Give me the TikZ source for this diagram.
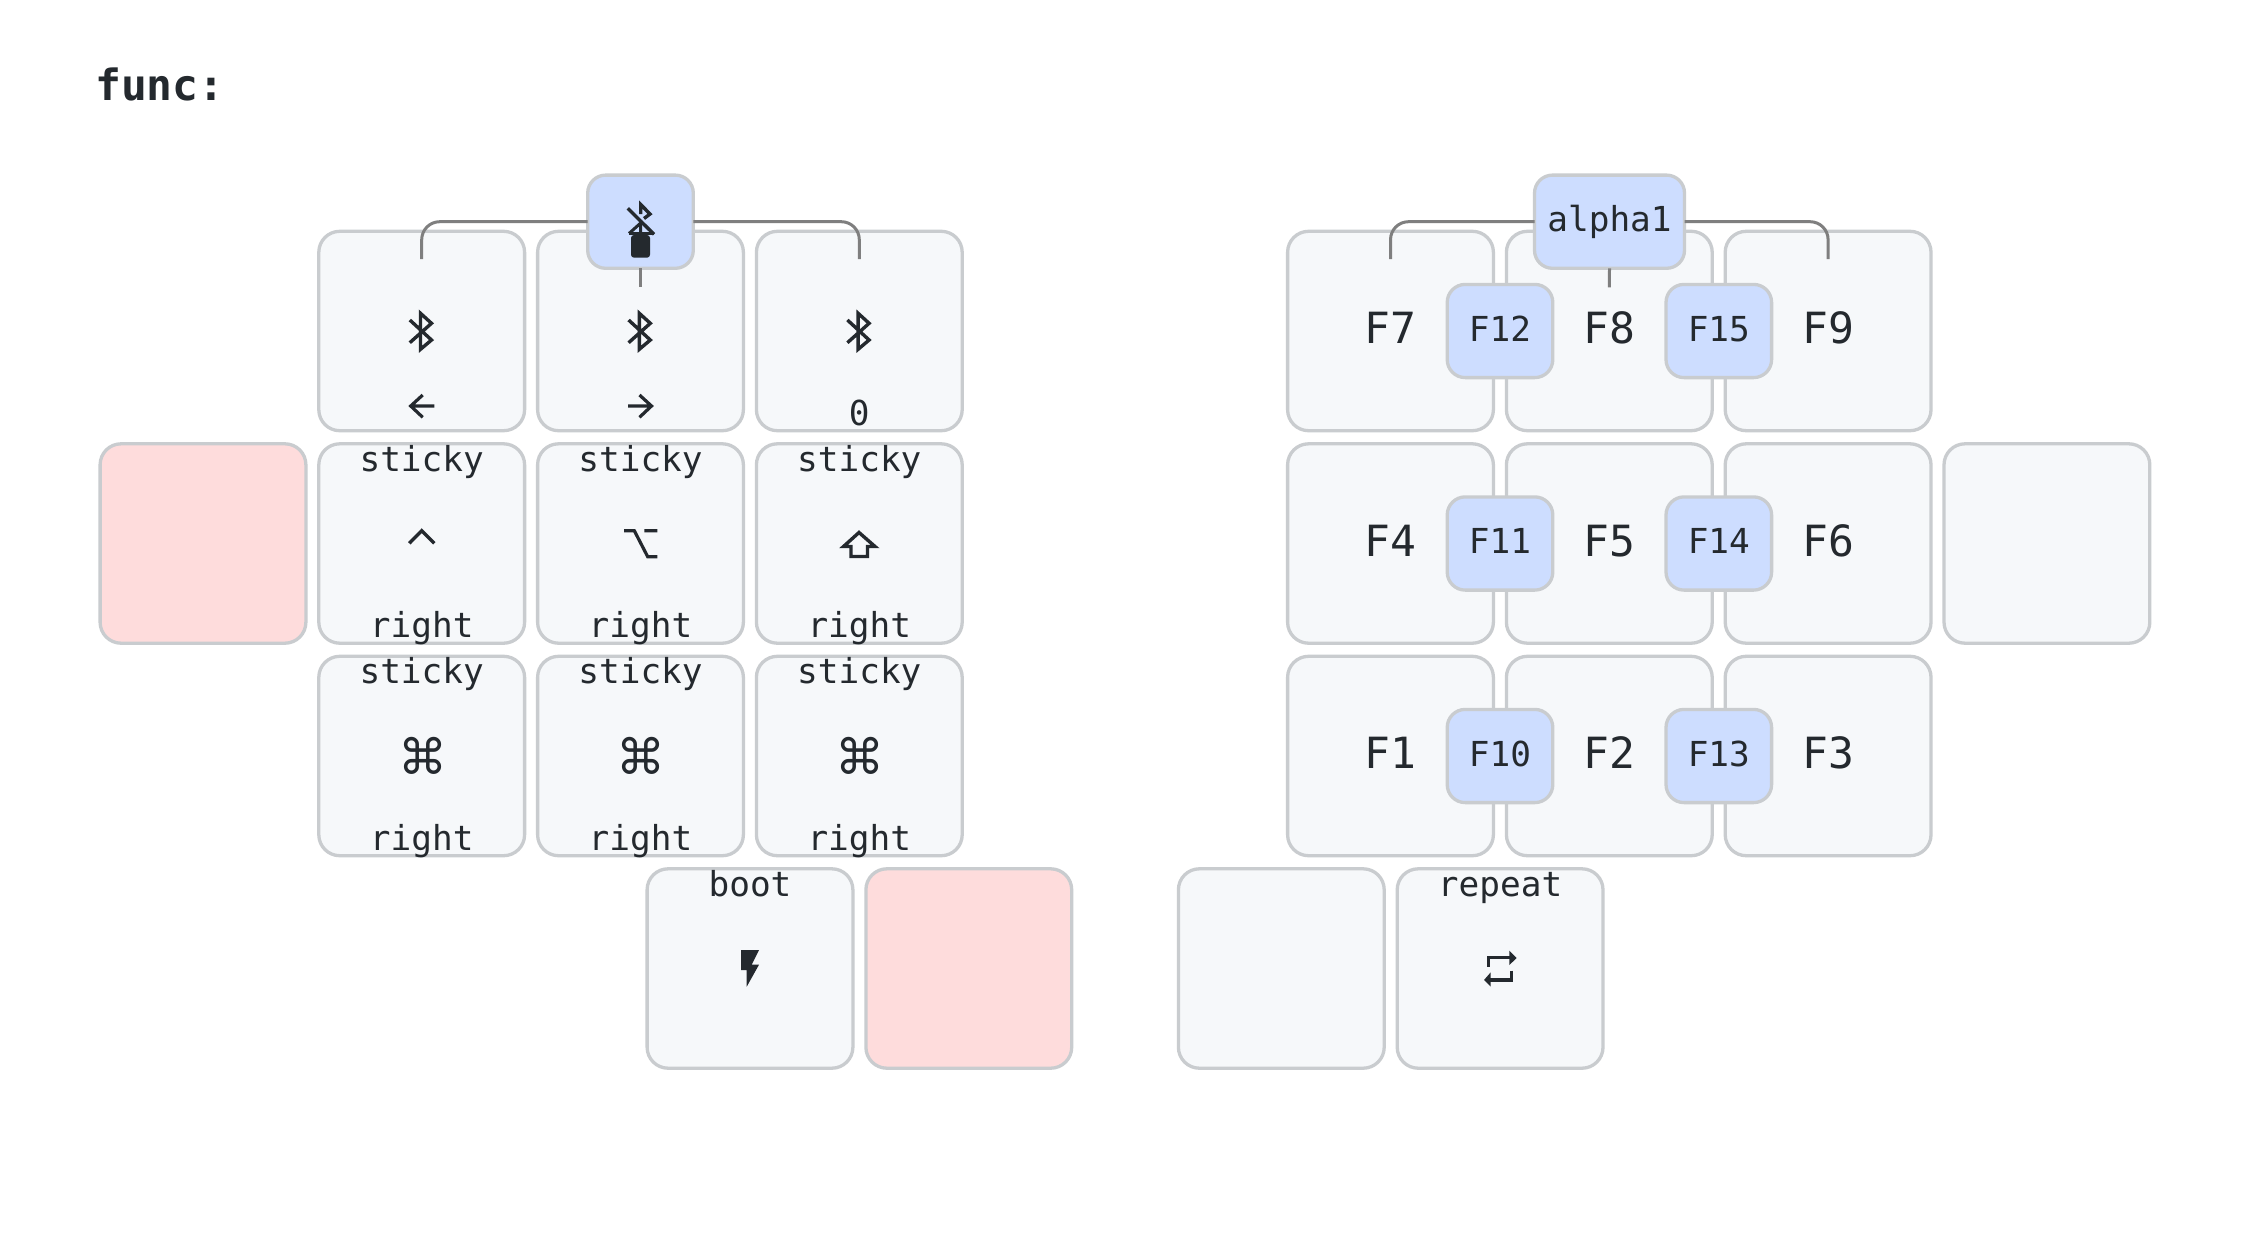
\documentclass[tikz,border=0pt]{standalone}
\usepackage{fontspec}
\setmonofont{DejaVu Sans Mono}
\newfontfamily\symfont{DejaVu Sans}
\definecolor{ink}{HTML}{24292E}
\definecolor{keyfill}{HTML}{F6F8FA}
\definecolor{keyline}{HTML}{C9CCCF}
\definecolor{heldfill}{HTML}{FEDCDC}
\definecolor{combofill}{HTML}{CDDDFF}
\definecolor{edgeline}{HTML}{7F7F7F}
\tikzset{
  keybox/.style={draw=keyline,fill=keyfill,line width=3.3pt,rounded corners=21pt,minimum width=205.8pt,minimum height=199.4pt,inner sep=0pt,outer sep=0pt},
  heldbox/.style={keybox,fill=heldfill},
  combobox/.style={draw=keyline,fill=combofill,line width=3.3pt,rounded corners=18pt,minimum height=93.2pt,minimum width=105.6pt,inner sep=0pt,outer sep=0pt},
  lbl/.style={anchor=base,inner sep=0pt,text=ink,font=\ttfamily\fontsize{34.4}{40}\selectfont},
  tap/.style={lbl,font=\ttfamily\fontsize{43}{50}\selectfont},
  cmd/.style={anchor=center,inner sep=0pt,text=ink,font=\symfont\fontsize{49}{52}\selectfont},
  connector/.style={draw=edgeline,line width=3pt,rounded corners=18pt},
  icon/.style={draw=ink,line width=3.4pt,miter limit=10},
  iconfill/.style={fill=ink,draw=none},
}
\newcommand{\bticon}[2]{\draw[icon,shift={(#1,#2)}] (-11.9,-11) -- (9.8,9) -- (-1.2,18.3) -- (-1.2,-17.7) -- (9.8,-7.7) -- (-11.9,11.7);}
\begin{document}
\begin{tikzpicture}[x=1pt,y=-1pt]
\useasboundingbox (0,0) rectangle (2250,1250);
\fill[white] (0,0) rectangle (2250,1250);
\node[anchor=base west,inner sep=0pt,text=ink,font=\ttfamily\bfseries\fontsize{43}{50}\selectfont] (title) at (95,100) {func:};
% left hand
\node[keybox] (a1) at (421.7,331) {};
\node[keybox] (a2) at (640.5,331) {};
\node[keybox] (a3) at (859.3,331) {};
\node[heldbox] (b0) at (203,543.5) {};
\node[keybox] (b1) at (421.7,543.5) {};
\node[keybox] (b2) at (640.5,543.5) {};
\node[keybox] (b3) at (859.3,543.5) {};
\node[keybox] (c1) at (421.7,756) {};
\node[keybox] (c2) at (640.5,756) {};
\node[keybox] (c3) at (859.3,756) {};
\node[keybox] (d1) at (750,968.5) {};
\node[heldbox] (d2) at (968.8,968.5) {};
% right hand
\node[keybox] (e1) at (1390.5,331) {};
\node[keybox] (e2) at (1609.3,331) {};
\node[keybox] (e3) at (1828.1,331) {};
\node[keybox] (f1) at (1390.5,543.5) {};
\node[keybox] (f2) at (1609.3,543.5) {};
\node[keybox] (f3) at (1828.1,543.5) {};
\node[keybox] (f4) at (2046.9,543.5) {};
\node[keybox] (g1) at (1390.5,756) {};
\node[keybox] (g2) at (1609.3,756) {};
\node[keybox] (g3) at (1828.1,756) {};
\node[keybox] (h1) at (1281.3,968.5) {};
\node[keybox] (h2) at (1500.1,968.5) {};
% labels left
\foreach \n/\x in {s1/421.7,s2/640.5,s3/859.3}{
  \node[lbl] (\n u) at (\x,471.2) {sticky};
  \node[lbl] (\n d) at (\x,637.5) {right};
  \node[lbl] (\n v) at (\x,683.7) {sticky};
  \node[lbl] (\n w) at (\x,850) {right};
  \node[cmd] (\n c) at (\x+0.8,756.3) {⌘};
  \bticon{\x}{331}
}
\node[lbl] (zero) at (859.3,425) {0};
\node[lbl] (boot) at (750,896.2) {boot};
\node[lbl] (repeat) at (1500.1,896.2) {repeat};
% arrows
\draw[icon,line width=3.2pt] (422.7,395) -- (410.7,406) -- (422.7,417.3) (410.7,406) -- (434.3,406);
\draw[icon,line width=3.2pt] (639.5,395) -- (651.5,406) -- (639.5,417.3) (651.5,406) -- (628,406);
% ctrl alt shift
\draw[icon] (409.3,543.3) -- (421.7,530.7) -- (434.3,543.3);
\draw[icon,line width=3.2pt] (624,530.7) -- (634.3,530.7) -- (647.7,556.7) -- (657.3,556.7) (644.3,530.7) -- (657.3,530.7);
\draw[icon] (859,532.5) -- (843.5,546.5) -- (851,546.5) -- (851,556.5) -- (867.5,556.5) -- (867.5,546.5) -- (875,546.5) -- cycle;
% bolt
\fill[iconfill] (741,950) -- (759,950) -- (751.7,964.7) -- (759,964.7) -- (746.7,986.7) -- (746.7,970) -- (741,970) -- cycle;
% repeat icon
\draw[icon,line width=3.3pt] (1488.7,966.7) -- (1488.7,957.5) -- (1510,957.5);
\fill[iconfill] (1509.3,950.7) -- (1516.7,958) -- (1509.3,965) -- cycle;
\draw[icon,line width=3.3pt] (1511.7,970.7) -- (1511.7,980) -- (1490,980);
\fill[iconfill] (1490.7,972.3) -- (1484,980) -- (1490.7,986.7) -- cycle;
% tap labels right
\node[tap] (t7) at (1390.5,343.5) {F7};
\node[tap] (t8) at (1609.3,343.5) {F8};
\node[tap] (t9) at (1828.1,343.5) {F9};
\node[tap] (t4) at (1390.5,556) {F4};
\node[tap] (t5) at (1609.3,556) {F5};
\node[tap] (t6) at (1828.1,556) {F6};
\node[tap] (t1) at (1390.5,768.5) {F1};
\node[tap] (t2) at (1609.3,768.5) {F2};
\node[tap] (t3) at (1828.1,768.5) {F3};
% connector ends
\coordinate (la) at (421.7,259);
\coordinate (lm) at (640.5,287.3);
\coordinate (lb) at (859.3,259);
\coordinate (ra) at (1390.5,259);
\coordinate (rm) at (1609.3,287.3);
\coordinate (rb) at (1828.1,259);
% combos
\node[combobox] (cl) at (640.5,221.7) {};
\node[combobox,minimum width=150pt] (cr) at (1609.5,221.7) {};
\draw[connector] (cl.west) -| (la);
\draw[connector] (cl.east) -| (lb);
\draw[connector] (cl.south) -- (lm);
\draw[connector] (cr.west) -| (ra);
\draw[connector] (cr.east) -| (rb);
\draw[connector] (cr.south) -- (rm);
\node[lbl] (alpha) at (1609.5,231.7) {alpha1};
% combo icon
\draw[icon] (627.7,208.3) -- (654,234.3);
\draw[icon,line width=3.4pt] (640.7,214) -- (640.7,204.5) -- (650,214) -- (644,218.5);
\draw[icon,line width=3pt] (629,233.5) -- (640.7,223) -- (640.7,233.5);
\draw[icon,line width=3.4pt] (628.7,233.5) -- (654,233.5);
\fill[iconfill,rounded corners=3pt] (631,235) -- (650,235) -- (650,257.7) -- (631,257.7) -- cycle;
% combos on keys
\node[combobox] (c12) at (1500,331) {};
\node[combobox] (c15) at (1718.8,331) {};
\node[combobox] (c11) at (1500,543.5) {};
\node[combobox] (c14) at (1718.8,543.5) {};
\node[combobox] (c10) at (1500,756) {};
\node[combobox] (c13) at (1718.8,756) {};
\node[lbl] (l12) at (1500,341) {F12};
\node[lbl] (l15) at (1718.8,341) {F15};
\node[lbl] (l11) at (1500,553.5) {F11};
\node[lbl] (l14) at (1718.8,553.5) {F14};
\node[lbl] (l10) at (1500,766) {F10};
\node[lbl] (l13) at (1718.8,766) {F13};
\end{tikzpicture}
\end{document}
